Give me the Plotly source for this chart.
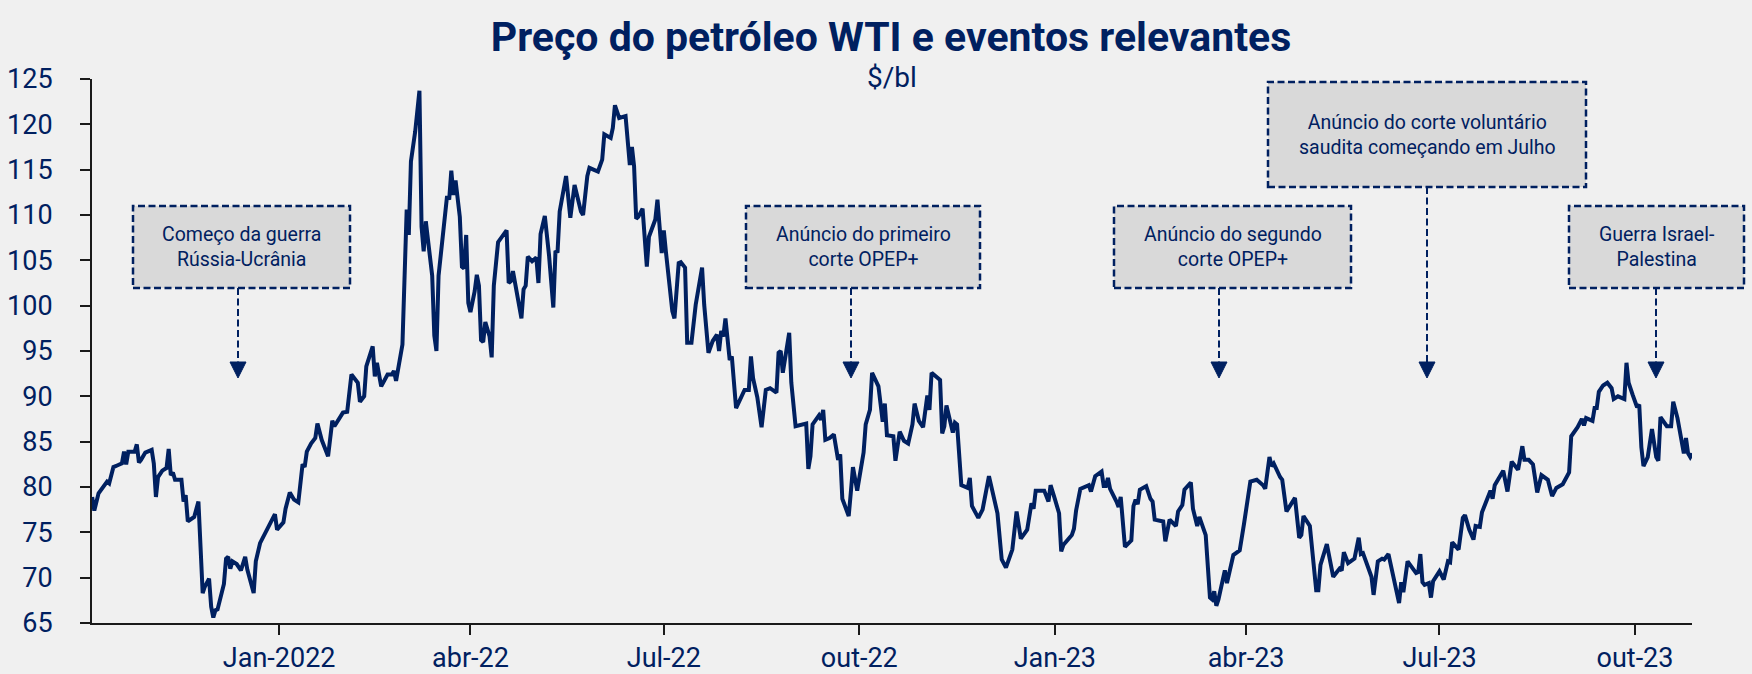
import plotly.graph_objects as go

# ---------------- data ----------------
dates = [
    "2021-10-05", "2021-10-06", "2021-10-08", "2021-10-10", "2021-10-12", "2021-10-13", "2021-10-15", "2021-10-17",
    "2021-10-19", "2021-10-20", "2021-10-21", "2021-10-22", "2021-10-25", "2021-10-26", "2021-10-27", "2021-10-28",
    "2021-10-30", "2021-11-02", "2021-11-03", "2021-11-04", "2021-11-05", "2021-11-07", "2021-11-09", "2021-11-10",
    "2021-11-11", "2021-11-12", "2021-11-13", "2021-11-16", "2021-11-17", "2021-11-18", "2021-11-19", "2021-11-22",
    "2021-11-23", "2021-11-24", "2021-11-26", "2021-11-27", "2021-11-29", "2021-11-30", "2021-12-01", "2021-12-02",
    "2021-12-03", "2021-12-06", "2021-12-07", "2021-12-08", "2021-12-09", "2021-12-10", "2021-12-12", "2021-12-14",
    "2021-12-16", "2021-12-17", "2021-12-20", "2021-12-21", "2021-12-23", "2021-12-25", "2021-12-28", "2021-12-30",
    "2021-12-31", "2022-01-03", "2022-01-04", "2022-01-06", "2022-01-08", "2022-01-10", "2022-01-12", "2022-01-13",
    "2022-01-14", "2022-01-16", "2022-01-18", "2022-01-19", "2022-01-21", "2022-01-24", "2022-01-26", "2022-01-27",
    "2022-01-31", "2022-02-02", "2022-02-04", "2022-02-07", "2022-02-08", "2022-02-10", "2022-02-11", "2022-02-14",
    "2022-02-15", "2022-02-16", "2022-02-18", "2022-02-21", "2022-02-23", "2022-02-24", "2022-02-25", "2022-02-28",
    "2022-03-02", "2022-03-03", "2022-03-04", "2022-03-06", "2022-03-08", "2022-03-09", "2022-03-10", "2022-03-11",
    "2022-03-14", "2022-03-15", "2022-03-16", "2022-03-17", "2022-03-21", "2022-03-22", "2022-03-23", "2022-03-24",
    "2022-03-25", "2022-03-27", "2022-03-28", "2022-03-29", "2022-03-30", "2022-03-31", "2022-04-01", "2022-04-03",
    "2022-04-04", "2022-04-05", "2022-04-06", "2022-04-07", "2022-04-08", "2022-04-10", "2022-04-11", "2022-04-12",
    "2022-04-14", "2022-04-16", "2022-04-18", "2022-04-19", "2022-04-20", "2022-04-21", "2022-04-23", "2022-04-25",
    "2022-04-26", "2022-04-27", "2022-04-28", "2022-04-30", "2022-05-02", "2022-05-03", "2022-05-04", "2022-05-06",
    "2022-05-08", "2022-05-10", "2022-05-11", "2022-05-12", "2022-05-13", "2022-05-16", "2022-05-18", "2022-05-20",
    "2022-05-23", "2022-05-24", "2022-05-26", "2022-05-27", "2022-05-31", "2022-06-02", "2022-06-03", "2022-06-06",
    "2022-06-07", "2022-06-08", "2022-06-10", "2022-06-13", "2022-06-15", "2022-06-16", "2022-06-17", "2022-06-18",
    "2022-06-19", "2022-06-21", "2022-06-23", "2022-06-24", "2022-06-27", "2022-06-28", "2022-06-30", "2022-07-01",
    "2022-07-02", "2022-07-05", "2022-07-06", "2022-07-08", "2022-07-09", "2022-07-11", "2022-07-12", "2022-07-14",
    "2022-07-16", "2022-07-19", "2022-07-20", "2022-07-22", "2022-07-24", "2022-07-26", "2022-07-27", "2022-07-28",
    "2022-07-29", "2022-07-30", "2022-08-01", "2022-08-02", "2022-08-04", "2022-08-08", "2022-08-10", "2022-08-11",
    "2022-08-12", "2022-08-14", "2022-08-16", "2022-08-18", "2022-08-20", "2022-08-23", "2022-08-24", "2022-08-25",
    "2022-08-26", "2022-08-27", "2022-08-29", "2022-08-30", "2022-09-01", "2022-09-06", "2022-09-07", "2022-09-08",
    "2022-09-09", "2022-09-12", "2022-09-13", "2022-09-14", "2022-09-15", "2022-09-17", "2022-09-19", "2022-09-21",
    "2022-09-22", "2022-09-23", "2022-09-26", "2022-09-27", "2022-09-28", "2022-09-30", "2022-10-03", "2022-10-04",
    "2022-10-06", "2022-10-07", "2022-10-10", "2022-10-12", "2022-10-13", "2022-10-14", "2022-10-17", "2022-10-18",
    "2022-10-20", "2022-10-22", "2022-10-24", "2022-10-26", "2022-10-27", "2022-10-29", "2022-10-31", "2022-11-02",
    "2022-11-03", "2022-11-04", "2022-11-08", "2022-11-09", "2022-11-10", "2022-11-11", "2022-11-14", "2022-11-15",
    "2022-11-16", "2022-11-18", "2022-11-21", "2022-11-22", "2022-11-23", "2022-11-26", "2022-11-28", "2022-12-01",
    "2022-12-03", "2022-12-05", "2022-12-07", "2022-12-09", "2022-12-12", "2022-12-14", "2022-12-16", "2022-12-19",
    "2022-12-21", "2022-12-22", "2022-12-23", "2022-12-27", "2022-12-29", "2022-12-30", "2023-01-01", "2023-01-03",
    "2023-01-04", "2023-01-05", "2023-01-09", "2023-01-10", "2023-01-11", "2023-01-13", "2023-01-17", "2023-01-18",
    "2023-01-20", "2023-01-23", "2023-01-24", "2023-01-25", "2023-01-26", "2023-01-27", "2023-01-30", "2023-01-31",
    "2023-02-01", "2023-02-02", "2023-02-03", "2023-02-06", "2023-02-07", "2023-02-08", "2023-02-09", "2023-02-10",
    "2023-02-13", "2023-02-15", "2023-02-16", "2023-02-17", "2023-02-21", "2023-02-22", "2023-02-24", "2023-02-27",
    "2023-02-28", "2023-03-02", "2023-03-03", "2023-03-06", "2023-03-07", "2023-03-09", "2023-03-10", "2023-03-13",
    "2023-03-15", "2023-03-16", "2023-03-17", "2023-03-18", "2023-03-19", "2023-03-22", "2023-03-23", "2023-03-26",
    "2023-03-29", "2023-03-31", "2023-04-03", "2023-04-06", "2023-04-09", "2023-04-10", "2023-04-12", "2023-04-13",
    "2023-04-14", "2023-04-17", "2023-04-18", "2023-04-20", "2023-04-24", "2023-04-26", "2023-04-27", "2023-04-28",
    "2023-05-01", "2023-05-04", "2023-05-05", "2023-05-06", "2023-05-09", "2023-05-12", "2023-05-15", "2023-05-16",
    "2023-05-17", "2023-05-19", "2023-05-22", "2023-05-24", "2023-05-25", "2023-05-26", "2023-05-30", "2023-05-31",
    "2023-06-02", "2023-06-04", "2023-06-05", "2023-06-07", "2023-06-12", "2023-06-13", "2023-06-14", "2023-06-16",
    "2023-06-20", "2023-06-21", "2023-06-22", "2023-06-23", "2023-06-24", "2023-06-26", "2023-06-27", "2023-06-28",
    "2023-07-01", "2023-07-03", "2023-07-05", "2023-07-06", "2023-07-07", "2023-07-10", "2023-07-12", "2023-07-13",
    "2023-07-15", "2023-07-17", "2023-07-18", "2023-07-20", "2023-07-21", "2023-07-23", "2023-07-25", "2023-07-26",
    "2023-07-27", "2023-07-31", "2023-08-02", "2023-08-04", "2023-08-07", "2023-08-09", "2023-08-10", "2023-08-12",
    "2023-08-14", "2023-08-16", "2023-08-18", "2023-08-21", "2023-08-23", "2023-08-25", "2023-08-28", "2023-08-31",
    "2023-09-01", "2023-09-04", "2023-09-06", "2023-09-07", "2023-09-08", "2023-09-11", "2023-09-12", "2023-09-13",
    "2023-09-14", "2023-09-16", "2023-09-18", "2023-09-20", "2023-09-21", "2023-09-23", "2023-09-26", "2023-09-27",
    "2023-09-28", "2023-09-30", "2023-10-02", "2023-10-03", "2023-10-04", "2023-10-05", "2023-10-07", "2023-10-09",
    "2023-10-11", "2023-10-12", "2023-10-13", "2023-10-16", "2023-10-18", "2023-10-19", "2023-10-21", "2023-10-24",
    "2023-10-25", "2023-10-26", "2023-10-27", "2023-10-28",
]

prices = [
    78.9, 77.4, 79.3, 80.0, 80.6, 80.4, 82.2, 82.4,
    82.6, 83.9, 82.5, 83.9, 83.9, 84.7, 82.7, 83.0,
    83.8, 84.1, 82.6, 78.9, 81.1, 81.8, 82.1, 84.2,
    81.3, 81.6, 80.8, 80.8, 78.4, 79.1, 76.2, 76.7,
    77.5, 78.4, 68.3, 69.0, 69.9, 66.8, 65.6, 66.4,
    66.5, 69.3, 72.1, 72.3, 71.0, 71.8, 71.5, 70.8,
    72.3, 70.9, 68.3, 71.8, 73.8, 74.7, 76.0, 77.0,
    75.3, 76.1, 77.6, 79.4, 78.6, 78.3, 82.5, 82.2,
    83.9, 84.8, 85.4, 87.0, 85.2, 83.4, 87.3, 86.7,
    88.2, 88.3, 92.4, 91.5, 89.4, 90.0, 93.3, 95.5,
    92.2, 93.7, 91.1, 92.4, 92.4, 92.8, 91.7, 95.7,
    110.6, 107.8, 115.9, 119.2, 123.7, 108.7, 106.0, 109.3,
    103.3, 96.7, 95.0, 103.3, 112.1, 111.7, 114.9, 112.2,
    113.8, 109.8, 104.3, 104.1, 107.8, 100.3, 99.3, 101.6,
    103.4, 102.2, 96.2, 96.0, 98.2, 96.6, 94.3, 102.2,
    107.0, 107.6, 108.3, 102.5, 102.7, 103.8, 101.2, 98.6,
    101.8, 102.2, 105.4, 104.9, 105.3, 102.5, 107.9, 109.9,
    105.5, 99.8, 105.9, 106.0, 110.4, 114.3, 109.7, 113.3,
    110.4, 110.0, 114.3, 115.2, 114.8, 116.1, 118.9, 118.5,
    119.6, 122.1, 120.7, 120.9, 115.5, 117.5, 115.4, 109.6,
    109.8, 110.7, 104.3, 107.6, 109.5, 111.7, 105.8, 108.3,
    105.9, 99.4, 98.6, 104.7, 104.8, 104.2, 95.9, 95.9,
    100.1, 104.2, 100.1, 94.8, 96.1, 96.8, 95.0, 97.2,
    96.6, 98.6, 94.0, 94.4, 88.7, 90.7, 90.7, 94.4,
    92.0, 89.9, 86.6, 90.7, 90.9, 90.4, 94.8, 95.0,
    92.6, 94.2, 97.0, 91.5, 86.7, 87.0, 82.0, 83.4,
    86.9, 87.9, 87.4, 88.5, 85.2, 85.4, 85.8, 83.0,
    83.6, 78.7, 76.8, 79.4, 82.2, 79.6, 83.8, 86.9,
    88.5, 92.6, 91.1, 87.2, 89.2, 85.7, 85.6, 82.9,
    86.1, 85.1, 84.8, 86.9, 89.2, 87.3, 86.6, 90.1,
    88.5, 92.6, 91.8, 85.9, 86.7, 89.0, 86.0, 87.1,
    86.9, 80.2, 79.9, 81.0, 77.9, 76.6, 77.5, 81.2,
    79.3, 77.1, 72.0, 71.1, 73.1, 77.3, 74.3, 75.3,
    78.2, 77.6, 79.6, 79.6, 78.4, 80.2, 78.7, 77.1,
    72.9, 73.6, 74.7, 75.4, 77.4, 79.8, 80.2, 79.5,
    81.2, 81.7, 80.1, 80.1, 81.0, 79.8, 78.4, 77.8,
    78.9, 76.0, 73.4, 74.1, 77.9, 78.6, 78.1, 79.7,
    80.1, 78.7, 78.4, 76.4, 76.2, 74.0, 76.4, 75.7,
    77.3, 78.0, 79.7, 80.5, 77.6, 75.7, 76.7, 74.7,
    67.8, 67.6, 68.5, 66.9, 67.6, 70.8, 69.4, 72.5,
    73.0, 75.9, 80.6, 80.8, 80.2, 79.8, 83.3, 82.3,
    82.6, 81.1, 80.8, 77.3, 78.8, 74.4, 74.7, 76.8,
    75.7, 68.6, 68.6, 71.4, 73.7, 70.1, 71.0, 70.8,
    72.8, 71.6, 72.1, 74.4, 72.6, 72.7, 70.1, 68.1,
    71.8, 72.1, 72.0, 72.6, 67.2, 69.5, 68.4, 71.8,
    70.5, 70.6, 72.6, 69.5, 69.2, 69.4, 67.8, 69.6,
    70.7, 69.8, 71.8, 71.7, 73.9, 73.1, 76.6, 76.9,
    75.3, 74.2, 75.7, 75.6, 77.2, 78.4, 79.6, 78.7,
    80.2, 81.8, 79.5, 82.8, 81.9, 84.5, 83.0, 83.0,
    82.5, 79.4, 81.3, 80.8, 79.0, 79.9, 80.3, 81.6,
    85.6, 86.6, 87.5, 86.8, 87.6, 87.3, 88.7, 88.7,
    90.5, 91.2, 91.5, 90.9, 89.7, 90.0, 89.7, 93.7,
    91.5, 90.1, 88.8, 89.1, 84.4, 82.3, 83.3, 86.4,
    83.3, 82.9, 87.7, 86.7, 86.7, 89.4, 87.6, 83.7,
    85.4, 83.7, 83.3, 83.7,
]

tick_dates = ["2022-01-01", "2022-04-01", "2022-07-01", "2022-10-01",
              "2023-01-01", "2023-04-01", "2023-07-01", "2023-10-01"]
tick_labels = ["Jan-2022", "abr-22", "Jul-22", "out-22",
               "Jan-23", "abr-23", "Jul-23", "out-23"]
y_ticks = [65, 70, 75, 80, 85, 90, 95, 100, 105, 110, 115, 120, 125]

event_texts = [
    "Começo da guerra<br>Rússia-Ucrânia",
    "Anúncio do primeiro<br>corte OPEP+",
    "Anúncio do segundo<br>corte OPEP+",
    "Anúncio do corte voluntário<br>saudita começando em Julho",
    "Guerra Israel-<br>Palestina",
]

title_text = "Preço do petróleo WTI e eventos relevantes"
unit_text = "$/bl"

# ---------------- layout geometry ----------------
W, H = 1752, 674
ML, MR, MT, MB = 92, 60, 79, 51
PW = W - ML - MR
PH = H - MT - MB

NAVY = "#002060"
AXIS = "#1a1a1a"
BG = "#f0f0f0"
FONT = "Roboto, 'Noto Sans', sans-serif"


def px(x):
    return (x - ML) / PW


def py(y):
    return (H - MB - y) / PH


# event boxes in pixel space: x0, x1, y0, y1, arrow x
boxes = [
    (133, 350, 206, 288, 238),
    (746, 980, 206, 288, 851),
    (1114, 1351, 206, 288, 1219),
    (1268, 1586, 82, 187, 1427),
    (1569, 1744, 206, 288, 1656),
]
ARROW_HEAD_TOP = 362
ARROW_TIP = 378

fig = go.Figure()
fig.add_trace(go.Scatter(
    x=dates, y=prices, mode="lines",
    line=dict(color=NAVY, width=4),
    hoverinfo="x+y", showlegend=False,
))

shapes = []
annotations = []
for (x0, x1, y0, y1, ax), txt in zip(boxes, event_texts):
    shapes.append(dict(
        type="rect", xref="paper", yref="paper",
        x0=px(x0), x1=px(x1), y0=py(y1), y1=py(y0),
        fillcolor="#d9d9d9",
        line=dict(color=NAVY, width=2.5, dash="7px,3.5px"),
        layer="above",
    ))
    shapes.append(dict(
        type="line", xref="paper", yref="paper",
        x0=px(ax), x1=px(ax), y0=py(y1), y1=py(ARROW_HEAD_TOP),
        line=dict(color=NAVY, width=2, dash="7px,3.5px"),
        layer="above",
    ))
    path = "M {a},{b} L {c},{b} L {d},{e} Z".format(
        a=px(ax - 8), c=px(ax + 8), b=py(ARROW_HEAD_TOP), d=px(ax), e=py(ARROW_TIP))
    shapes.append(dict(
        type="path", xref="paper", yref="paper", path=path,
        fillcolor=NAVY, line=dict(color=NAVY, width=1), layer="above",
    ))
    annotations.append(dict(
        xref="paper", yref="paper",
        x=px((x0 + x1) / 2), y=py((y0 + y1) / 2),
        text=txt, showarrow=False, xanchor="center", yanchor="middle",
        align="center", font=dict(family=FONT, size=19.5, color=NAVY),
    ))

annotations.append(dict(
    xref="paper", yref="paper", x=0.5, y=py(78),
    text=unit_text, showarrow=False, xanchor="center", yanchor="middle",
    font=dict(family=FONT, size=28, color=NAVY),
))

fig.update_layout(
    width=W, height=H, autosize=False,
    margin=dict(l=ML, r=MR, t=MT, b=MB, pad=0, autoexpand=False),
    paper_bgcolor=BG, plot_bgcolor=BG,
    title=dict(
        text="<b>" + title_text + "</b>",
        x=px(891), xref="paper", xanchor="center",
        y=1 - 37 / H, yref="container", yanchor="middle",
        font=dict(family=FONT, size=41, color=NAVY),
        automargin=False,
    ),
    xaxis=dict(
        type="date",
        range=["2021-10-04 22:00", "2023-10-27 20:00"],
        tickvals=tick_dates, ticktext=tick_labels,
        showline=True, linecolor=AXIS, linewidth=2,
        ticks="outside", ticklen=10, tickwidth=2, tickcolor=AXIS,
        tickfont=dict(family=FONT, size=27, color=NAVY),
        showgrid=False, zeroline=False, automargin=False,
    ),
    yaxis=dict(
        range=[65, 125], tickvals=y_ticks,
        showline=True, linecolor=AXIS, linewidth=2,
        ticks="outside", ticklen=10, tickwidth=2, tickcolor=AXIS,
        tickfont=dict(family=FONT, size=27, color=NAVY),
        ticklabelstandoff=22,
        showgrid=False, zeroline=False, automargin=False,
    ),
    shapes=shapes,
    annotations=annotations,
    hovermode="closest",
)

fig.write_html("out.html", config={"displayModeBar": False},
               post_script="document.body.style.margin='0';")
